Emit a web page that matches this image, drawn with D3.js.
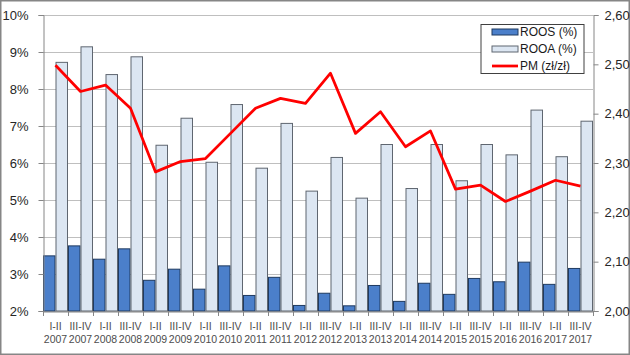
<!DOCTYPE html>
<html><head><meta charset="utf-8">
<script src="https://cdn.jsdelivr.net/npm/d3@7"></script>
<style>
html,body{margin:0;padding:0;background:#fff;}
svg{display:block;font-family:"Liberation Sans",Arial,sans-serif;}
</style></head>
<body><svg id="c" width="630" height="355"></svg>
<script>
const halves = ["I-II","III-IV","I-II","III-IV","I-II","III-IV","I-II","III-IV","I-II","III-IV","I-II","III-IV","I-II","III-IV","I-II","III-IV","I-II","III-IV","I-II","III-IV","I-II","III-IV"];
const years = ["2007","2007","2008","2008","2009","2009","2010","2010","2011","2011","2012","2012","2013","2013","2014","2014","2015","2015","2016","2016","2017","2017"];
const roos = [3.49,3.76,3.40,3.68,2.83,3.13,2.59,3.22,2.42,2.91,2.15,2.48,2.14,2.69,2.26,2.75,2.45,2.88,2.79,3.32,2.72,3.15];
const rooa = [8.72,9.14,8.39,8.87,6.48,7.21,6.02,7.58,5.86,7.07,5.24,6.15,5.05,6.50,5.31,6.50,5.52,6.50,6.22,7.43,6.17,7.13];
const pm = [2.498,2.445,2.458,2.411,2.282,2.303,2.309,2.360,2.411,2.431,2.421,2.482,2.360,2.404,2.333,2.365,2.247,2.255,2.222,2.243,2.265,2.253];
const leftTicks = [2,3,4,5,6,7,8,9,10];
const rightTicks = [2.0,2.1,2.2,2.3,2.4,2.5,2.6];
const legendLabels = ["ROOS (%)","ROOA (%)","PM (zł/zł)"];

const svg = d3.select("#c");
const W = 630, H = 355;
const m = {l:43, r:593, t:15, b:311};
const cats = d3.range(roos.length);

svg.append("rect").attr("x",0.75).attr("y",0.75).attr("width",W-1.5).attr("height",H-1.5)
  .attr("fill","#fff").attr("stroke","#868686").attr("stroke-width",1.5);

const x = d3.scaleBand().domain(cats).range([m.l,m.r]).paddingInner(0).paddingOuter(0);
const xs = d3.scaleBand().domain(["roos","rooa"]).range([0,x.bandwidth()]).padding(0);
const yL = d3.scaleLinear().domain([2,10]).range([m.b,m.t]);
const yR = d3.scaleLinear().domain([2.0,2.6]).range([m.b,m.t]);

// gridlines
svg.append("g").selectAll("line").data(leftTicks).join("line")
  .attr("x1",m.l).attr("x2",m.r)
  .attr("y1",d=>Math.round(yL(d))+0.5).attr("y2",d=>Math.round(yL(d))+0.5)
  .attr("stroke","#bfbfbf").attr("stroke-width",1);

// bars
const g = svg.append("g");
g.selectAll(".roos").data(roos).join("rect")
  .attr("x",(d,i)=>x(i)+xs("roos")+0.5).attr("width",xs.bandwidth()-1)
  .attr("y",d=>yL(d)).attr("height",d=>yL(2)-yL(d))
  .attr("fill","#4b7fca").attr("stroke","#1f3a60").attr("stroke-width",1);
g.selectAll(".rooa").data(rooa).join("rect")
  .attr("x",(d,i)=>x(i)+xs("rooa")+0.5).attr("width",xs.bandwidth()-1)
  .attr("y",d=>yL(d)).attr("height",d=>yL(2)-yL(d))
  .attr("fill","#dce6f2").attr("stroke","#5f6670").attr("stroke-width",1);

// axes
const axL = d3.axisLeft(yL).tickValues(leftTicks).tickFormat(d=>d+"%").tickSize(5).tickPadding(10);
const gL = svg.append("g").attr("transform",`translate(${m.l+0.5},0)`).call(axL);
const axR = d3.axisRight(yR).tickValues(rightTicks).tickFormat(d=>d3.format(".2f")(d).replace(".",",")).tickSize(5).tickPadding(6);
const gR = svg.append("g").attr("transform",`translate(${m.r+0.5},0)`).call(axR);
[gL,gR].forEach(a=>{
  a.select(".domain").attr("stroke","#868686");
  a.selectAll(".tick line").attr("stroke","#868686");
  a.selectAll(".tick text").attr("font-size","13px").attr("fill","#262626")
    .attr("font-family","'Liberation Sans',Arial,sans-serif");
});

// x axis
const axB = d3.axisBottom(x).tickSize(0).tickFormat("");
const gB = svg.append("g").attr("transform",`translate(0,${m.b+0.5})`).call(axB);
gB.select(".domain").attr("stroke","#868686");
svg.append("g").selectAll("line").data(d3.range(roos.length+1)).join("line")
  .attr("x1",d=>m.l+d*x.step()+0.5).attr("x2",d=>m.l+d*x.step()+0.5)
  .attr("y1",m.b).attr("y2",m.b+5).attr("stroke","#868686");
const lab = svg.append("g").selectAll("text").data(cats).join("text")
  .attr("x",i=>x(i)+x.bandwidth()/2).attr("text-anchor","middle")
  .attr("font-size","10.5px").attr("fill","#4d4d4d");
lab.append("tspan").attr("x",i=>x(i)+x.bandwidth()/2).attr("y",330).text(i=>halves[i]);
lab.append("tspan").attr("x",i=>x(i)+x.bandwidth()/2).attr("y",343).text(i=>years[i]);

// line
const line = d3.line().x((d,i)=>x(i)+x.bandwidth()/2).y(d=>yR(d));
svg.append("path").datum(pm).attr("d",line).attr("fill","none")
  .attr("stroke","#ff0000").attr("stroke-width",2.75).attr("stroke-linejoin","round");

// legend
const lg = svg.append("g");
lg.append("rect").attr("x",481).attr("y",24.5).attr("width",103).attr("height",49)
  .attr("fill","#fff").attr("stroke","#404040").attr("stroke-width",1);
const ly = [32,49,66];
lg.append("rect").attr("x",492).attr("y",ly[0]-3).attr("width",26).attr("height",6)
  .attr("fill","#4b7fca").attr("stroke","#1f3a60");
lg.append("rect").attr("x",492).attr("y",ly[1]-3).attr("width",26).attr("height",6)
  .attr("fill","#dce6f2").attr("stroke","#5f6670");
lg.append("line").attr("x1",492).attr("x2",518).attr("y1",ly[2]).attr("y2",ly[2])
  .attr("stroke","#ff0000").attr("stroke-width",2.75);
lg.selectAll("text").data(legendLabels).join("text")
  .attr("x",520).attr("y",(d,i)=>ly[i]).attr("dy","0.35em")
  .attr("font-size","12px").attr("fill","#1a1a1a").text(d=>d);
</script></body></html>
